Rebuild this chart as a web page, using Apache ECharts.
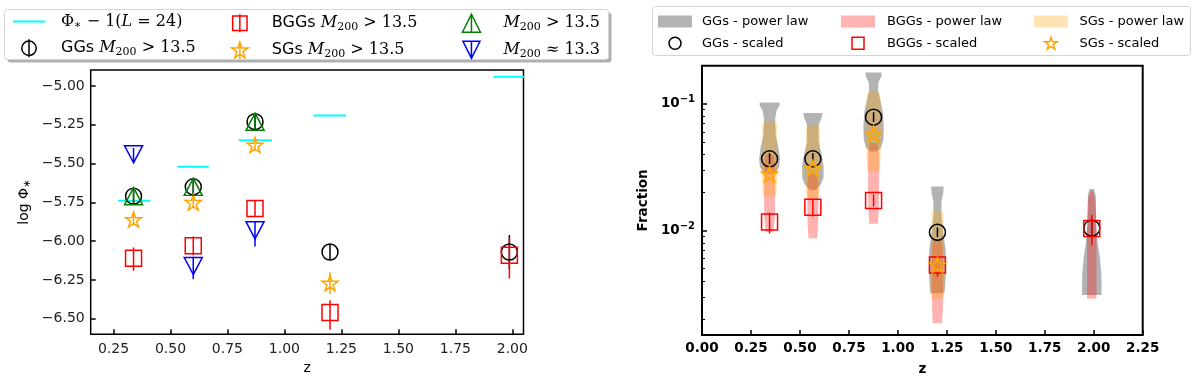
<!DOCTYPE html>
<html>
<head>
<meta charset="utf-8">
<script src="https://cdn.jsdelivr.net/npm/echarts@6/dist/echarts.min.js"></script>
<style>
    html, body { margin: 0; padding: 0; background: #fff; }
    #chart { width: 1200px; height: 384px; }
</style>
</head>
<body>
<div id="chart"></div>
<script>
// ---- left panel: log Phi_* against z ----
var zLeft = [0.338, 0.600, 0.871, 1.200, 1.987];
var ggsLeft = [-5.71, -5.65, -5.23, -6.07, -6.07];
var ggsLeftLo = [-5.76, -5.70, -5.28, -6.12, -6.18];
var ggsLeftHi = [-5.66, -5.60, -5.18, -6.02, -5.96];
var bggsLeft = [-6.11, -6.03, -5.79, -6.46, -6.09];
var bggsLeftLo = [-6.19, -6.09, -5.84, -6.57, -6.24];
var bggsLeftHi = [-6.04, -5.97, -5.74, -6.38, -5.98];
var zSgsLeft = [0.338, 0.600, 0.871, 1.200];
var sgsLeft = [-5.86, -5.75, -5.38, -6.27];
var sgsLeftLo = [-5.90, -5.79, -5.42, -6.34];
var sgsLeftHi = [-5.82, -5.71, -5.34, -6.20];
var zMass = [0.338, 0.600, 0.871];
var m135 = [-5.71, -5.65, -5.23];
var m135Lo = [-5.76, -5.70, -5.28];
var m135Hi = [-5.66, -5.60, -5.18];
var m133 = [-5.44, -6.16, -5.93];
var m133Lo = [-5.49, -6.245, -6.035];
var m133Hi = [-5.40, -6.10, -5.87];
var phiZLo = [0.270, 0.530, 0.800, 1.127, 1.917];
var phiZHi = [0.411, 0.668, 0.945, 1.270, 2.070];
var phiVal = [-5.74, -5.52, -5.35, -5.19, -4.94];
var leftYTicks = [-6.5, -6.25, -6.0, -5.75, -5.5, -5.25, -5.0];
var leftXTicks = [0.25, 0.5, 0.75, 1.0, 1.25, 1.5, 1.75, 2.0];

// ---- right panel: fraction against z ----
var zRight = [0.345, 0.566, 0.876, 1.202, 1.990];
var ggsRight = [0.0368, 0.0368, 0.0785, 0.0097, 0.01045];
var ggsRightLo = [0.0336, 0.0336, 0.0720, 0.0089, 0.0092];
var ggsRightHi = [0.0408, 0.0408, 0.0860, 0.0106, 0.0118];
var bggsRight = [0.0117, 0.0153, 0.0173, 0.00536, 0.0104];
var bggsRightLo = [0.0095, 0.0129, 0.0155, 0.00434, 0.0077];
var bggsRightHi = [0.0138, 0.0175, 0.0193, 0.00624, 0.0133];
var zSgsRight = [0.345, 0.566, 0.876, 1.202];
var sgsRight = [0.0279, 0.0311, 0.0580, 0.00536];
var sgsRightLo = [0.0255, 0.0280, 0.0525, 0.0047];
var sgsRightHi = [0.0310, 0.0350, 0.0660, 0.0062];
var rightMajorTicks = [0.01, 0.1];
var rightMinorTicks = [0.002, 0.003, 0.004, 0.005, 0.006, 0.007, 0.008, 0.009,
    0.02, 0.03, 0.04, 0.05, 0.06, 0.07, 0.08, 0.09, 0.2];

// violin outlines: [fraction, half width in z]
var ggsViolin1 = [[0.1024, 0.051], [0.096, 0.050], [0.089, 0.036], [0.075, 0.028], [0.056, 0.032], [0.045, 0.046], [0.037, 0.053], [0.032, 0.050], [0.029, 0.035], [0.028, 0.015]];
var ggsViolin2 = [[0.0845, 0.049], [0.078, 0.045], [0.068, 0.030], [0.050, 0.029], [0.040, 0.045], [0.032, 0.055], [0.026, 0.054], [0.023, 0.040], [0.0209, 0.015]];
var ggsViolin3 = [[0.1766, 0.041], [0.165, 0.040], [0.148, 0.025], [0.128, 0.022], [0.105, 0.035], [0.085, 0.048], [0.066, 0.052], [0.052, 0.050], [0.045, 0.038], [0.042, 0.015]];
var ggsViolin4 = [[0.0223, 0.032], [0.020, 0.030], [0.017, 0.021], [0.013, 0.020], [0.0095, 0.030], [0.007, 0.042], [0.005, 0.044], [0.0038, 0.040], [0.0032, 0.036]];
var ggsViolin5 = [[0.0213, 0.012], [0.019, 0.020], [0.015, 0.021], [0.011, 0.022], [0.008, 0.030], [0.006, 0.042], [0.0045, 0.049], [0.0035, 0.050], [0.0031, 0.050]];
var pinkViolin1 = [[0.040, 0.020], [0.034, 0.028], [0.020, 0.028], [0.013, 0.027], [0.0098, 0.020]];
var pinkViolin2 = [[0.028, 0.020], [0.024, 0.028], [0.016, 0.028], [0.011, 0.027], [0.0087, 0.022]];
var pinkViolin3 = [[0.049, 0.020], [0.042, 0.028], [0.025, 0.028], [0.015, 0.027], [0.0113, 0.022]];
var pinkViolin4 = [[0.0085, 0.022], [0.007, 0.028], [0.004, 0.028], [0.0025, 0.028], [0.00186, 0.024]];
var pinkViolin5 = [[0.0206, 0.006], [0.018, 0.018], [0.012, 0.024], [0.006, 0.024], [0.004, 0.024], [0.0029, 0.024]];
var orangeViolin1 = [[0.0725, 0.034], [0.066, 0.038], [0.050, 0.036], [0.035, 0.038], [0.025, 0.038], [0.0186, 0.034]];
var orangeViolin2 = [[0.0683, 0.030], [0.060, 0.036], [0.045, 0.036], [0.032, 0.038], [0.024, 0.036], [0.0175, 0.032]];
var orangeViolin3 = [[0.125, 0.030], [0.110, 0.036], [0.080, 0.036], [0.055, 0.038], [0.040, 0.036], [0.0292, 0.032]];
var orangeViolin4 = [[0.0141, 0.028], [0.012, 0.031], [0.008, 0.031], [0.005, 0.036], [0.0035, 0.036], [0.0029, 0.032]];

var ggsViolins = [ggsViolin1, ggsViolin2, ggsViolin3, ggsViolin4, ggsViolin5];
var pinkViolins = [pinkViolin1, pinkViolin2, pinkViolin3, pinkViolin4, pinkViolin5];
var orangeViolins = [orangeViolin1, orangeViolin2, orangeViolin3, orangeViolin4];

var starPath = 'path://M10,0L12.245,6.91L19.511,6.91L13.633,11.18L15.878,18.09L10,13.82L4.122,18.09L6.367,11.18L0.489,6.91L7.755,6.91Z';
var icons = {
    line: 'path://M0,0L32,0L32,2L0,2Z',
    circleBar: 'path://M10,2A8,8,0,1,1,9.99,2Z M10,0L10,20',
    rectBar: 'path://M2,2L18,2L18,18L2,18Z M10,0L10,20',
    starBar: 'path://M10,1L12.1,7.6L19,7.6L13.4,11.7L15.6,18.4L10,14.3L4.4,18.4L6.6,11.7L1,7.6L7.9,7.6Z M10,0L10,20',
    triUp: 'path://M10,1L19,19L1,19Z M10,1L10,19',
    triDown: 'path://M1,1L19,1L10,19Z M10,1L10,20',
    circle: 'path://M10,2A8,8,0,1,1,9.99,2Z',
    rect: 'path://M2,2L18,2L18,18L2,18Z',
    star: 'path://M10,1L12.1,7.6L19,7.6L13.4,11.7L15.6,18.4L10,14.3L4.4,18.4L6.6,11.7L1,7.6L7.9,7.6Z'
};

function rows3(a, b, c) {
    return a.map(function (v, i) { return [v, b[i], c[i]]; });
}
function pairs(a, b) {
    return a.map(function (v, i) { return [v, b[i]]; });
}

function errRender(color) {
    return function (params, api) {
        var p1 = api.coord([api.value(0), api.value(1)]);
        var p2 = api.coord([api.value(0), api.value(2)]);
        return {
            type: 'line',
            shape: {x1: p1[0], y1: p1[1], x2: p2[0], y2: p2[1]},
            style: {stroke: color, lineWidth: 1.5}
        };
    };
}
function segRender(params, api) {
    var p1 = api.coord([api.value(0), api.value(2)]);
    var p2 = api.coord([api.value(1), api.value(2)]);
    return {
        type: 'line',
        shape: {x1: p1[0], y1: p1[1], x2: p2[0], y2: p2[1]},
        style: {stroke: '#00ffff', lineWidth: 2}
    };
}
function violinRender(profiles, color) {
    return function (params, api) {
        var prof = profiles[params.dataIndex];
        var z = api.value(0);
        var right = prof.map(function (p) { return api.coord([z + p[1], p[0]]); });
        var left = prof.slice().reverse().map(function (p) { return api.coord([z - p[1], p[0]]); });
        return {type: 'polygon', shape: {points: right.concat(left)}, style: {fill: color}};
    };
}
function violinData(zs, profiles) {
    return profiles.map(function (p, i) { return [zs[i], p[0][0]]; });
}

function errSeries(xi, zs, lo, hi, color) {
    return {
        type: 'custom', xAxisIndex: xi, yAxisIndex: xi, renderItem: errRender(color),
        data: rows3(zs, lo, hi), encode: {x: 0, y: [1, 2]}, clip: true, silent: true
    };
}
function markSeries(xi, name, zs, ys, symbol, size, color, rotate) {
    return {
        name: name, type: 'scatter', xAxisIndex: xi, yAxisIndex: xi,
        symbol: symbol, symbolSize: size, symbolRotate: rotate || 0,
        itemStyle: {color: 'transparent', borderColor: color, borderWidth: 1.5, opacity: 1},
        data: pairs(zs, ys), silent: true
    };
}

var legendNames = {
    'phi': '{m|Φ}{sub|∗}{m| − 1(}{mi|L}{m| = 24)}',
    'GGs M200 > 13.5': '{s|GGs }{mi|M}{sub|200}{m| > 13.5}',
    'BGGs M200 > 13.5': '{s|BGGs }{mi|M}{sub|200}{m| > 13.5}',
    'SGs M200 > 13.5': '{s|SGs }{mi|M}{sub|200}{m| > 13.5}',
    'M200 > 13.5': '{mi|M}{sub|200}{m| > 13.5}',
    'M200 ~ 13.3': '{mi|M}{sub|200}{m| ≈ 13.3}'
};
var leftRich = {
    s: {fontFamily: 'DejaVu Sans', fontSize: 16, color: '#000'},
    m: {fontFamily: 'DejaVu Serif', fontSize: 16, color: '#000'},
    mi: {fontFamily: 'DejaVu Serif', fontStyle: 'italic', fontSize: 16, color: '#000'},
    sub: {fontFamily: 'DejaVu Serif', fontSize: 11, color: '#000', padding: [8, 0, 0, 0]}
};
function leftLegend(x, items) {
    return {
        orient: 'vertical', left: x, top: 13.5, itemWidth: 32, itemHeight: 18, itemGap: 7.5,
        selectedMode: false, padding: 0,
        formatter: function (n) { return legendNames[n]; },
        textStyle: {rich: leftRich, padding: [0, 0, 0, 11]},
        data: items
    };
}
function rightLegend(x, pad, items) {
    return {
        orient: 'vertical', left: x, top: 15, itemWidth: 34, itemHeight: 12, itemGap: 8.5,
        selectedMode: false, padding: 0,
        textStyle: {fontFamily: 'DejaVu Sans', fontSize: 13, color: '#000', padding: [0, 0, 0, pad]},
        data: items
    };
}

var chart = echarts.init(document.getElementById('chart'));
var fmt2 = function (v) { return (v < 0 ? '−' : '') + Math.abs(v).toFixed(2); };

var option = {
    animation: false,
    backgroundColor: '#fff',
    graphic: [
        {type: 'rect', z: 0, shape: {x: 7.5, y: 12.5, width: 604, height: 50, r: 3}, style: {fill: '#b0b0b0'}},
        {type: 'rect', z: 0, shape: {x: 4.5, y: 9.5, width: 604, height: 50, r: 3}, style: {fill: '#fff', stroke: '#d5d5d5', lineWidth: 1}},
        {type: 'rect', z: 0, shape: {x: 652.5, y: 6.5, width: 538, height: 49, r: 3}, style: {fill: '#fff', stroke: '#d5d5d5', lineWidth: 1}}
    ],
    grid: [
        {left: 90.7, top: 70, right: 676.5, bottom: 49.7, show: true, borderColor: '#000', borderWidth: 1.5, backgroundColor: 'transparent'},
        {left: 702, top: 65.7, right: 57.3, bottom: 49, show: true, borderColor: '#000', borderWidth: 2, backgroundColor: 'transparent'}
    ],
    legend: [
        leftLegend(13, [
            {name: 'phi', icon: icons.line, itemStyle: {color: '#00ffff', borderWidth: 0}},
            {name: 'GGs M200 > 13.5', icon: icons.circleBar, itemStyle: {color: 'transparent', borderColor: '#000', borderWidth: 1.5}}
        ]),
        leftLegend(231, [
            {name: 'BGGs M200 > 13.5', icon: icons.rectBar, itemStyle: {color: 'transparent', borderColor: '#ff0000', borderWidth: 1.5}},
            {name: 'SGs M200 > 13.5', icon: icons.starBar, itemStyle: {color: 'transparent', borderColor: '#ffa500', borderWidth: 1.5}}
        ]),
        leftLegend(461.7, [
            {name: 'M200 > 13.5', icon: icons.triUp, itemStyle: {color: 'transparent', borderColor: '#008000', borderWidth: 1.5}},
            {name: 'M200 ~ 13.3', icon: icons.triDown, itemStyle: {color: 'transparent', borderColor: '#0000ff', borderWidth: 1.5}}
        ]),
        rightLegend(658, 5, [
            {name: 'GGs - power law', icon: 'rect', itemStyle: {color: '#b3b3b3', borderWidth: 0}},
            {name: 'GGs - scaled', icon: icons.circle, itemStyle: {color: 'transparent', borderColor: '#000', borderWidth: 1.5}}
        ]),
        rightLegend(841, 7, [
            {name: 'BGGs - power law', icon: 'rect', itemStyle: {color: '#ffb3b3', borderWidth: 0}},
            {name: 'BGGs - scaled', icon: icons.rect, itemStyle: {color: 'transparent', borderColor: '#ff0000', borderWidth: 1.5}}
        ]),
        rightLegend(1034, 6.5, [
            {name: 'SGs - power law', icon: 'rect', itemStyle: {color: '#ffe4b3', borderWidth: 0}},
            {name: 'SGs - scaled', icon: icons.star, itemStyle: {color: 'transparent', borderColor: '#ffa500', borderWidth: 1.5}}
        ])
    ],
    xAxis: [
        {
            type: 'value', gridIndex: 0, min: 0.15, max: 2.049,
            name: 'z', nameLocation: 'middle', nameGap: 27,
            nameTextStyle: {fontFamily: 'DejaVu Sans', fontSize: 14, color: '#000'},
            axisLine: {show: false}, splitLine: {show: false},
            axisTick: {inside: true, length: 5, lineStyle: {color: '#000', width: 1.5}, customValues: leftXTicks},
            axisLabel: {margin: 8, fontFamily: 'DejaVu Sans', fontSize: 14, color: '#222', customValues: leftXTicks, formatter: fmt2}
        },
        {
            type: 'value', gridIndex: 1, min: 0, max: 2.25, interval: 0.25,
            name: 'z', nameLocation: 'middle', nameGap: 27,
            nameTextStyle: {fontFamily: 'DejaVu Sans', fontSize: 13.5, fontWeight: 'bold', color: '#000'},
            axisLine: {show: false}, splitLine: {show: false},
            axisTick: {inside: true, length: 5, lineStyle: {color: '#000', width: 1.5}},
            axisLabel: {margin: 6, fontFamily: 'DejaVu Sans', fontSize: 13.5, fontWeight: 'bold', color: '#000', formatter: fmt2}
        }
    ],
    yAxis: [
        {
            type: 'value', gridIndex: 0, min: -6.6, max: -4.897,
            name: '{a|log Φ}{s|∗}', nameLocation: 'middle', nameGap: 58, nameRotate: 90,
            nameTextStyle: {
                rich: {
                    a: {fontFamily: 'DejaVu Sans', fontSize: 14, color: '#000'},
                    s: {fontFamily: 'DejaVu Sans', fontSize: 10, color: '#000', padding: [7, 0, 0, 0]}
                }
            },
            axisLine: {show: false}, splitLine: {show: false},
            axisTick: {inside: true, length: 5, lineStyle: {color: '#000', width: 1.5}, customValues: leftYTicks},
            axisLabel: {margin: 6, fontFamily: 'DejaVu Sans', fontSize: 14, color: '#222', customValues: leftYTicks, formatter: fmt2}
        },
        {
            type: 'log', logBase: 10, gridIndex: 1, min: 0.0015, max: 0.2,
            name: 'Fraction', nameLocation: 'middle', nameGap: 52, nameRotate: 90,
            nameTextStyle: {fontFamily: 'DejaVu Sans', fontSize: 13.5, fontWeight: 'bold', color: '#000'},
            axisLine: {show: false}, splitLine: {show: false},
            axisTick: {inside: true, length: 5, lineStyle: {color: '#000', width: 1.5}, customValues: rightMajorTicks},
            axisLabel: {
                margin: 7, customValues: rightMajorTicks,
                formatter: function (v) { return '{b|10}{e|−' + Math.round(-Math.log10(v)) + '}'; },
                rich: {
                    b: {fontFamily: 'DejaVu Sans', fontSize: 13.5, fontWeight: 'bold', color: '#000'},
                    e: {fontFamily: 'DejaVu Sans', fontSize: 10, fontWeight: 'bold', color: '#000', padding: [0, 0, 8, 0]}
                }
            }
        },
        {
            type: 'log', logBase: 10, gridIndex: 1, min: 0.0015, max: 0.2, position: 'left',
            axisLine: {show: false}, splitLine: {show: false}, axisLabel: {show: false},
            axisTick: {inside: true, length: 3, lineStyle: {color: '#000', width: 1}, customValues: rightMinorTicks}
        }
    ],
    series: [
        // left panel
        {
            name: 'phi', type: 'custom', xAxisIndex: 0, yAxisIndex: 0, renderItem: segRender,
            itemStyle: {color: '#00ffff'}, data: rows3(phiZLo, phiZHi, phiVal), encode: {x: [0, 1], y: 2}, clip: true, silent: true
        },
        errSeries(0, zLeft, ggsLeftLo, ggsLeftHi, '#000'),
        markSeries(0, 'GGs M200 > 13.5', zLeft, ggsLeft, 'circle', 16, '#000'),
        errSeries(0, zLeft, bggsLeftLo, bggsLeftHi, '#ff0000'),
        markSeries(0, 'BGGs M200 > 13.5', zLeft, bggsLeft, 'rect', 16, '#ff0000'),
        errSeries(0, zSgsLeft, sgsLeftLo, sgsLeftHi, '#ffa500'),
        markSeries(0, 'SGs M200 > 13.5', zSgsLeft, sgsLeft, starPath, [16, 15.2], '#ffa500'),
        errSeries(0, zMass, m135Lo, m135Hi, '#008000'),
        markSeries(0, 'M200 > 13.5', zMass, m135, 'triangle', [18, 17], '#008000'),
        errSeries(0, zMass, m133Lo, m133Hi, '#0000ff'),
        markSeries(0, 'M200 ~ 13.3', zMass, m133, 'triangle', [18, 17], '#0000ff', 180),
        // right panel
        {
            name: 'GGs - power law', type: 'custom', xAxisIndex: 1, yAxisIndex: 1,
            renderItem: violinRender(ggsViolins, 'rgba(128,128,128,0.6)'), itemStyle: {color: '#b3b3b3'},
            data: violinData(zRight, ggsViolins), encode: {x: 0, y: 1}, clip: true, silent: true
        },
        {
            name: 'BGGs - power law', type: 'custom', xAxisIndex: 1, yAxisIndex: 1,
            renderItem: violinRender(pinkViolins, 'rgba(255,0,0,0.3)'), itemStyle: {color: '#ffb3b3'},
            data: violinData(zRight, pinkViolins), encode: {x: 0, y: 1}, clip: true, silent: true
        },
        {
            name: 'SGs - power law', type: 'custom', xAxisIndex: 1, yAxisIndex: 1,
            renderItem: violinRender(orangeViolins, 'rgba(255,165,0,0.3)'), itemStyle: {color: '#ffe4b3'},
            data: violinData(zSgsRight, orangeViolins), encode: {x: 0, y: 1}, clip: true, silent: true
        },
        errSeries(1, zRight, ggsRightLo, ggsRightHi, '#000'),
        markSeries(1, 'GGs - scaled', zRight, ggsRight, 'circle', 16, '#000'),
        errSeries(1, zRight, bggsRightLo, bggsRightHi, '#ff0000'),
        markSeries(1, 'BGGs - scaled', zRight, bggsRight, 'rect', 16, '#ff0000'),
        errSeries(1, zSgsRight, sgsRightLo, sgsRightHi, '#ffa500'),
        markSeries(1, 'SGs - scaled', zSgsRight, sgsRight, starPath, [16, 15.2], '#ffa500')
    ]
};
chart.setOption(option);
</script>
</body>
</html>
